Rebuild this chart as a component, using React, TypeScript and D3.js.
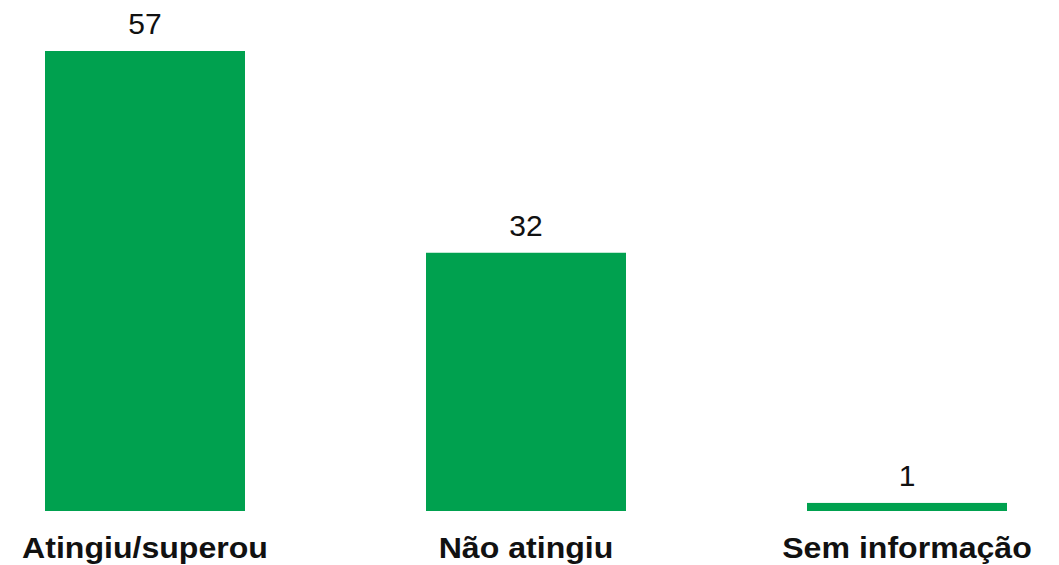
import React from "react";
import * as d3 from "d3";

const categories = ["Atingiu/superou", "Não atingiu", "Sem informação"];
const values = [57, 32, 1];

const W = 1059;
const H = 565;

export default function App() {
  const xs = d3
    .scaleBand<string>()
    .domain(categories)
    .range([45, 1007])
    .paddingInner(181 / 381)
    .paddingOuter(0);
  const y = d3.scaleLinear().domain([0, 57]).range([511, 51]);
  return (
    <svg
      width={W}
      height={H}
      style={{ position: "absolute", left: 0, top: 0, background: "#fff" }}
      fontFamily="Liberation Sans, Arial, sans-serif"
    >
      {categories.map((c, i) => {
        const cx = (xs(c) as number) + xs.bandwidth() / 2;
        return (
          <g key={c}>
            <rect
              x={xs(c)}
              y={y(values[i])}
              width={xs.bandwidth()}
              height={y(0) - y(values[i])}
              fill="#00A14F"
            />
            <text
              x={cx}
              y={y(values[i]) - 17}
              textAnchor="middle"
              fontSize={30}
              fill="#111"
            >
              {values[i]}
            </text>
            <g transform={`translate(${cx},558) scale(1.07,1)`}>
              <text
                x={0}
                y={0}
                textAnchor="middle"
                fontSize={30}
                fontWeight="bold"
                fill="#111"
              >
                {c}
              </text>
            </g>
          </g>
        );
      })}
    </svg>
  );
}
